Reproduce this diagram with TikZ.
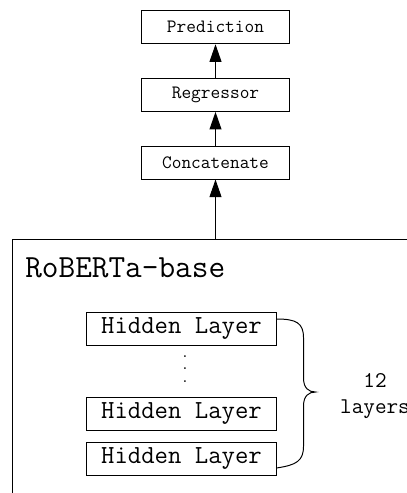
\documentclass[tikz,border=0pt]{standalone}
\usepackage{tikz}
\usetikzlibrary{arrows.meta, positioning}

\begin{document}
\begin{tikzpicture}[x=0.025cm, y=-0.025cm, node distance=0.84cm,
  block/.style={rectangle, draw, line width=0.7pt, inner sep=0pt},
  small/.style={block, minimum width=3.675cm, minimum height=0.825cm, font=\ttfamily\fontsize{13.4}{16}\selectfont},
  hidden/.style={block, minimum width=4.725cm, minimum height=0.825cm, font=\ttfamily\fontsize{18.5}{22}\selectfont},
  arrow/.style={-{Triangle[length=12.5pt, width=8.5pt]}, line width=0.7pt}]
\useasboundingbox (0,0) rectangle (407,493);
\clip (0,0) rectangle (407,493);

% head of the model
\node (concat) [small] at (215.5,162.5) {Concatenate};
\node (regr) [small, above=of concat] {Regressor};
\node (pred) [small, above=of regr] {Prediction};

% encoder
\node (roberta) [rectangle, draw, line width=0.8pt, anchor=north west, minimum width=11cm, minimum height=7cm] at (12,239) {};
\node (title) [anchor=base west, inner sep=0pt, font=\ttfamily\fontsize{23}{28}\selectfont] at (25,277) {RoBERTa-base};

\node (hl3) [hidden] at (181.5,459) {Hidden Layer};
\node (hl2) [hidden, above=0.275cm of hl3] {Hidden Layer};
\node (hl1) [hidden, above=1.275cm of hl2] {Hidden Layer};
\node (dots) [align=center, inner sep=0pt, font=\bfseries\fontsize{8}{8.9}\selectfont] at (185,369) {.\\.\\.};
\node (count) [align=center, font=\ttfamily\fontsize{16}{19}\selectfont] at (375,396) {12\\layers};

\draw [arrow] (concat) -- (regr);
\draw [arrow] (regr) -- (pred);
\draw [arrow] (roberta.north -| concat) -- (concat);

% brace
\coordinate (btop) at ([yshift=-0.175cm]hl1.north east);
\coordinate (bbot) at ([yshift=0.2cm]hl3.south east);
\begin{scope}[shift={(btop)}]
\draw [line width=0.7pt] (btop) .. controls (20,0) and (27,4) .. (27,19) -- (27,59)
  .. controls (27,69) and (32,73) .. (39,73) .. controls (32,73) and (27,77) .. (27,87)
  -- (27,127) .. controls (27,142) and (20,146) .. (bbot);
\end{scope}
\end{tikzpicture}
\end{document}
